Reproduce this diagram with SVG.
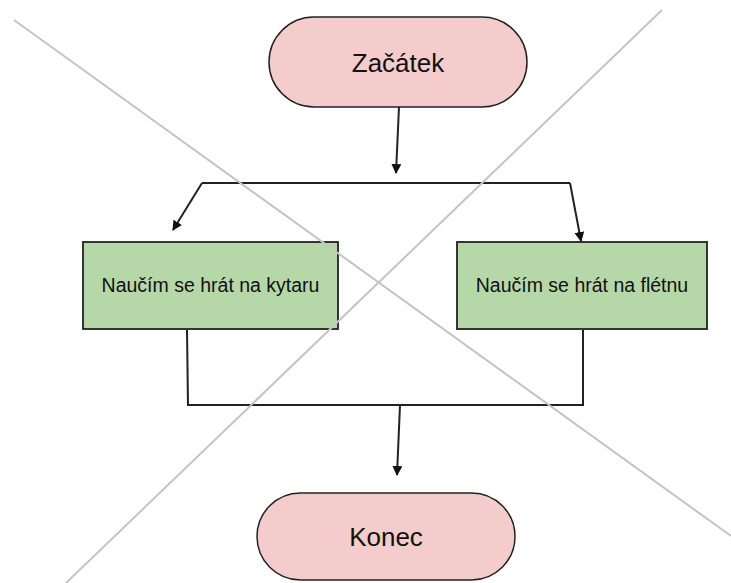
<svg xmlns="http://www.w3.org/2000/svg" width="731" height="583" viewBox="0 0 731 583">
<style>
.pill{fill:#f4cccc;stroke:#222;stroke-width:1.5}
.box{fill:#b6d7a8;stroke:#222;stroke-width:1.8}
.big{font-family:"Liberation Sans",Arial,sans-serif;font-size:26px;fill:#111;text-anchor:middle}
.mid{font-family:"Liberation Sans",Arial,sans-serif;font-size:19.5px;fill:#111;text-anchor:middle}
.con{fill:none;stroke:#222;stroke-width:2}
.cross{stroke:#c4c4c4;stroke-width:2;fill:none}
</style>
<defs>
<marker id="ah" viewBox="0 0 10 10" refX="9" refY="5" markerWidth="5" markerHeight="5" markerUnits="strokeWidth" orient="auto">
<path d="M0,0 L10,5 L0,10 z" fill="#111"/>
</marker>
</defs>
<rect width="731" height="583" fill="#fff"/>
<g id="connectors">
<line class="con" x1="399" y1="107" x2="396" y2="173" marker-end="url(#ah)"/>
<polyline class="con" points="570,183 202,183"/>
<line class="con" x1="202" y1="183" x2="173" y2="230" marker-end="url(#ah)"/>
<line class="con" x1="570" y1="183" x2="581" y2="241" marker-end="url(#ah)"/>
<polyline class="con" points="187,330 188,405 583,405 583,330"/>
<line class="con" x1="400" y1="405" x2="397" y2="475" marker-end="url(#ah)"/>
</g>
<g id="start">
<rect class="pill" x="269" y="17" width="258" height="90" rx="45" ry="45"/>
<text class="big" x="398" y="72">Začátek</text>
</g>
<g id="kytara">
<rect class="box" x="83" y="242" width="255" height="87"/>
<text class="mid" x="210.5" y="292">Naučím se hrát na kytaru</text>
</g>
<g id="fletna">
<rect class="box" x="457" y="242" width="250" height="87"/>
<text class="mid" x="582" y="292">Naučím se hrát na flétnu</text>
</g>
<g id="end">
<rect class="pill" x="257" y="493" width="258" height="87" rx="43.5" ry="43.5"/>
<text class="big" x="386" y="546">Konec</text>
</g>
<g id="cross">
<line class="cross" x1="14" y1="20" x2="731" y2="536"/>
<line class="cross" x1="662" y1="10" x2="66" y2="583"/>
</g>
</svg>
